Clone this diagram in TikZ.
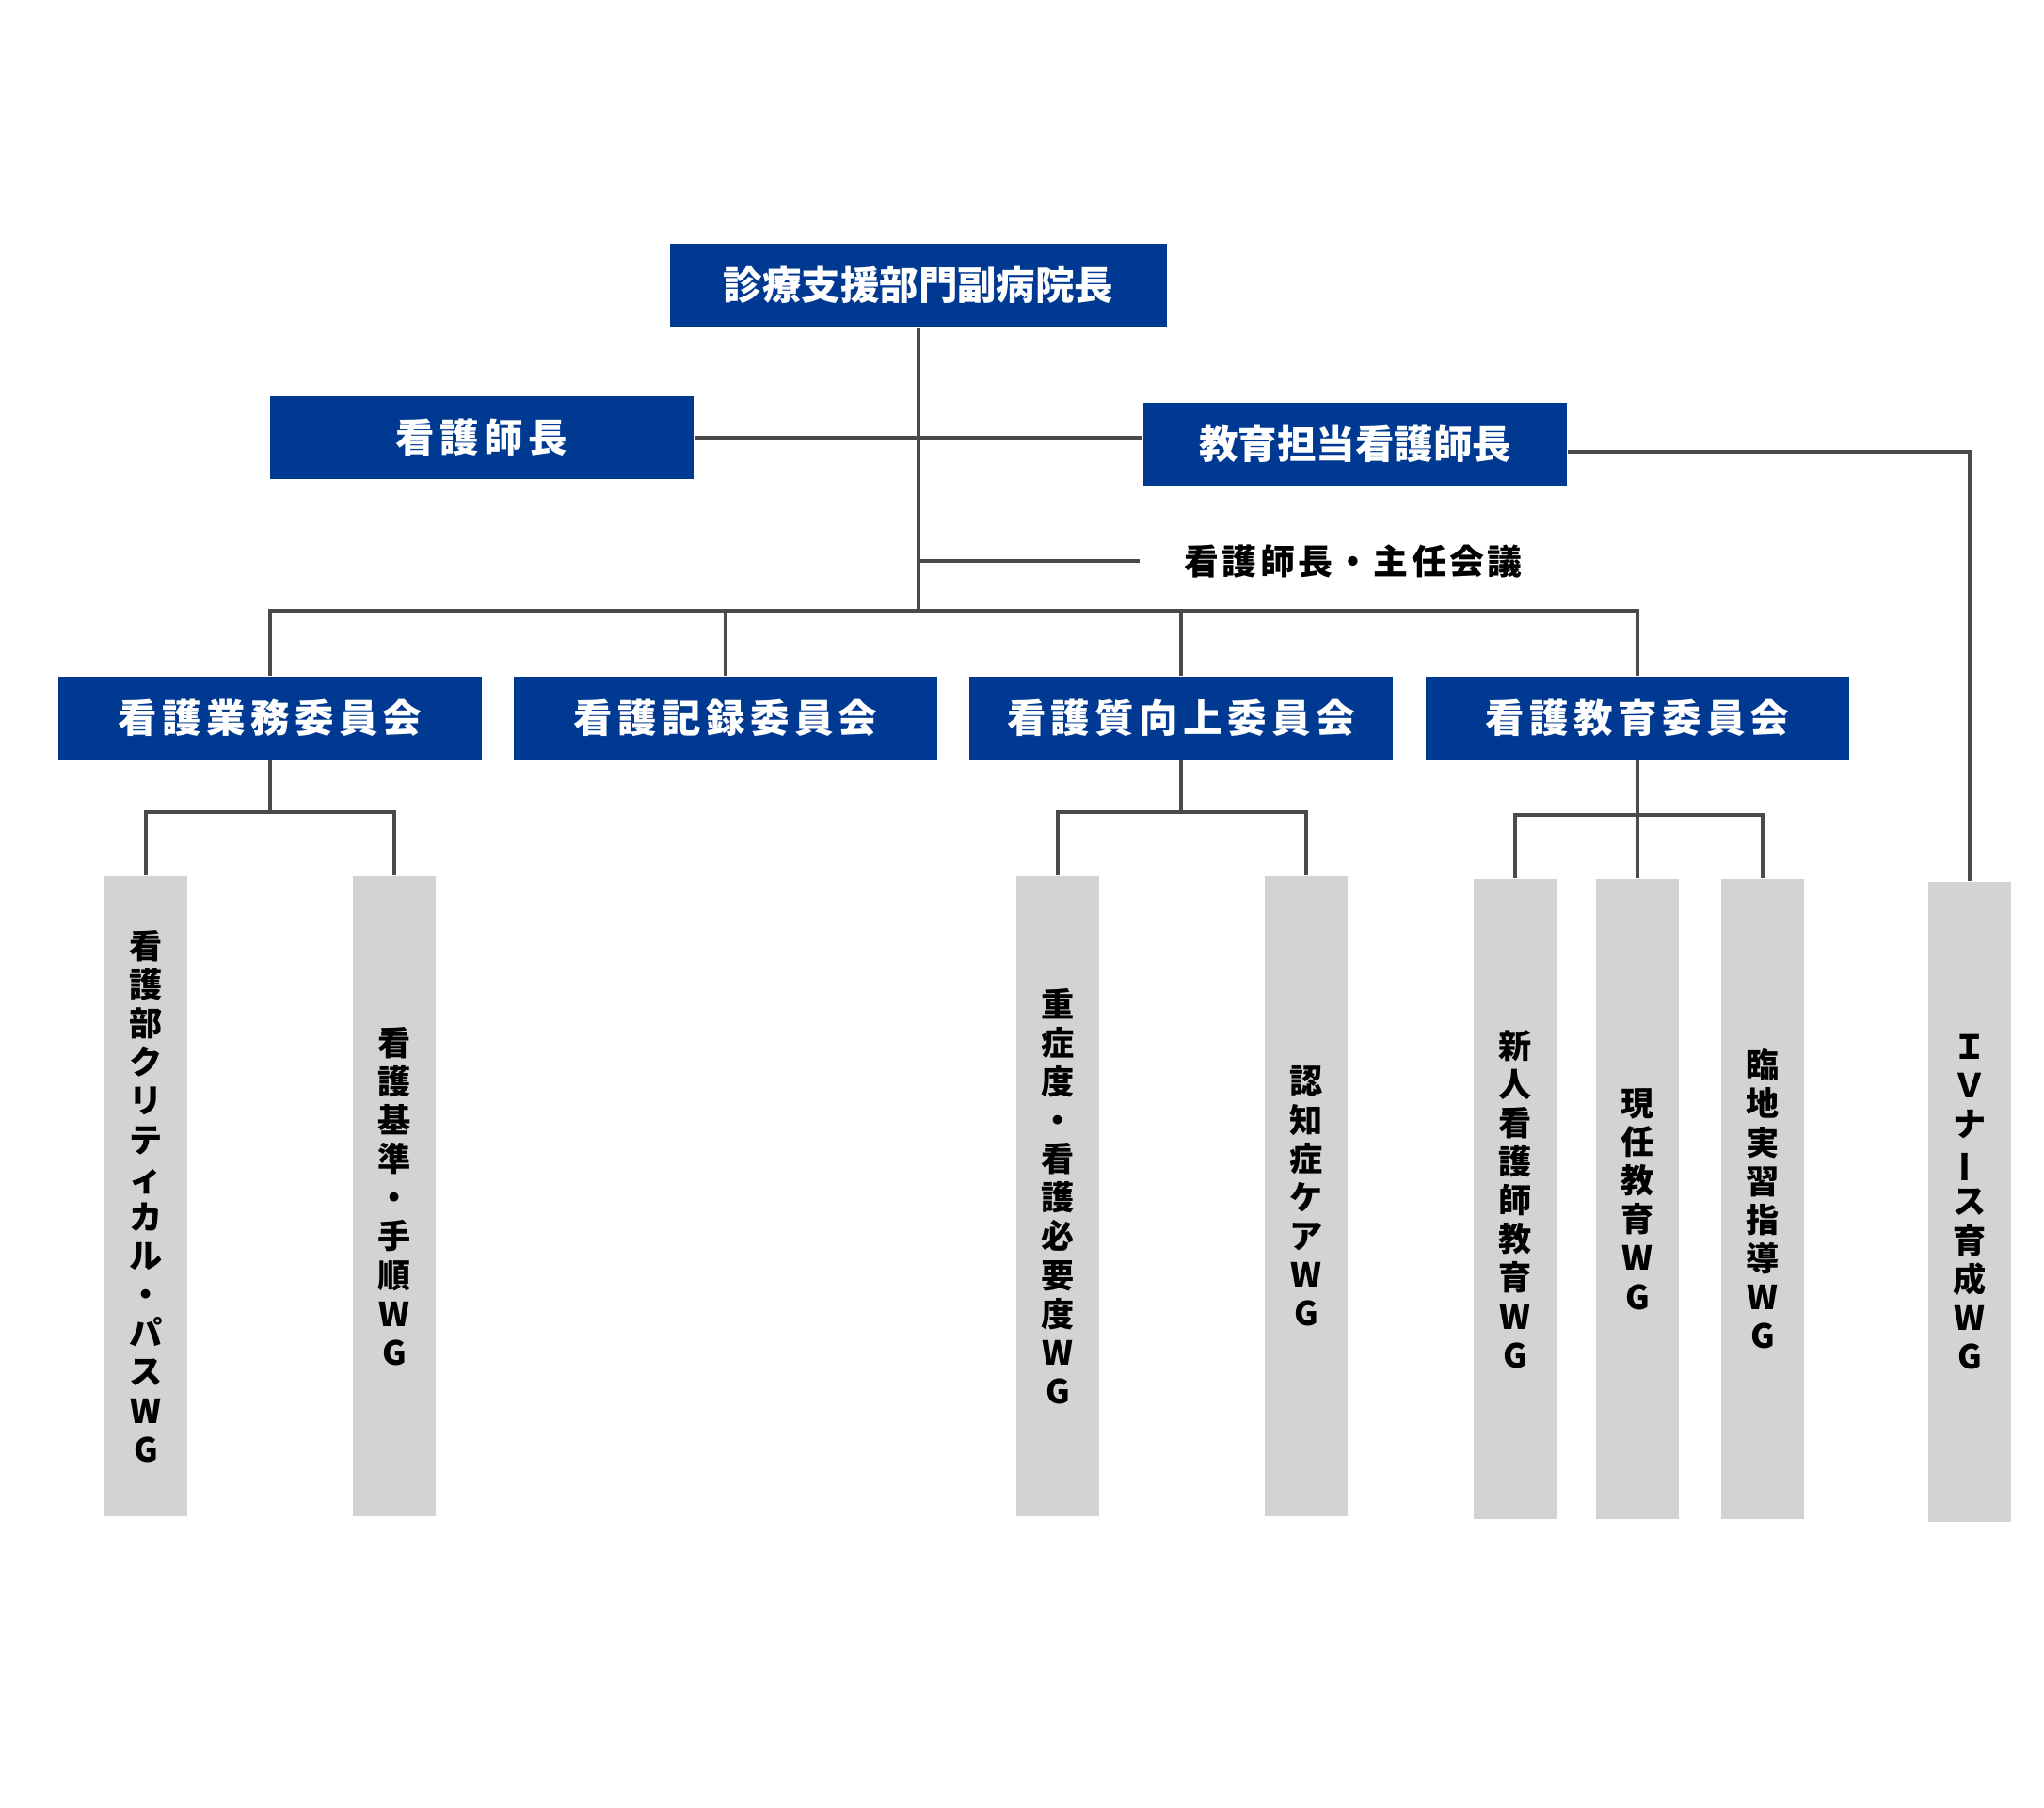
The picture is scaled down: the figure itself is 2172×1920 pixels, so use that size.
\documentclass[tikz,border=0pt]{standalone}
\usepackage{fontspec}
\setmainfont{Noto Sans CJK JP}
\newfontfamily\jpwide{Noto Sans CJK JP}[LetterSpace=13]
\newfontfamily\jpmid{Noto Sans CJK JP}[LetterSpace=9]
\definecolor{boxblue}{RGB}{0,57,145}
\definecolor{wggrey}{RGB}{211,211,211}
\definecolor{linegrey}{RGB}{74,74,74}

\tikzstyle{post} = [rectangle, fill=boxblue, text=white, inner sep=0pt, minimum width=4.5cm, minimum height=0.88cm, font=\bfseries\fontsize{11.8}{14}\selectfont]
\tikzstyle{committee} = [post, font=\jpwide\bfseries\fontsize{11.8}{14}\selectfont]
\tikzstyle{wg} = [rectangle, fill=wggrey, inner sep=0pt, minimum width=0.88cm, minimum height=6.8cm, align=center, font=\bfseries\fontsize{10}{11.7}\selectfont]
\tikzstyle{conn} = [draw=linegrey, line width=0.9pt]

\begin{document}
\begin{tikzpicture}[x=0.01cm, y=-0.01cm]
      \useasboundingbox (0,0) rectangle (2172,1920);
      \node[post, minimum width=5.28cm] (vp) at (976,303) {診療支援部門副病院長};
      \node[committee] (head) at (512,465) {看護師長};
      \node[post] (edu) at (1440,472) {教育担当看護師長};
      \node[font=\jpmid\bfseries\fontsize{10.5}{12}\selectfont, anchor=west, inner sep=0pt] (mtg) at (1258,596) {看護師長・主任会議};
      \node[committee] (c1) at (287,763) {看護業務委員会};
      \node[committee] (c2) at (771,763) {看護記録委員会};
      \node[committee] (c3) at (1255,763) {看護質向上委員会};
      \node[committee] (c4) at (1740,763) {看護教育委員会};
      \node[wg] (g1) at (155,1271) {看\\護\\部\\ク\\リ\\テ\\ィ\\カ\\ル\\・\\パ\\ス\\W\\G};
      \node[wg] (g2) at (419,1271) {看\\護\\基\\準\\・\\手\\順\\W\\G};
      \node[wg] (g3) at (1124,1271) {重\\症\\度\\・\\看\\護\\必\\要\\度\\W\\G};
      \node[wg] (g4) at (1388,1271) {認\\知\\症\\ケ\\ア\\W\\G};
      \node[wg] (g5) at (1610,1274) {新\\人\\看\\護\\師\\教\\育\\W\\G};
      \node[wg] (g6) at (1740,1274) {現\\任\\教\\育\\W\\G};
      \node[wg] (g7) at (1873,1274) {臨\\地\\実\\習\\指\\導\\W\\G};
      \node[wg] (g8) at (2093,1277) {Ｉ\\Ｖ\\ナ\\\rotatebox[origin=c]{90}{ー}\\ス\\育\\成\\W\\G};
      \coordinate (hub) at (976,649);
      \coordinate (mtgend) at (1211,596);
      \coordinate (s1) at (287,863);
      \coordinate (s3) at (1255,863);
      \coordinate (s4) at (1740,866);
      \draw[conn] (vp.south) -- (hub);
      \draw[conn] (head.east) -- (edu.west |- head.east);
      \draw[conn] (vp.south |- mtg) -- (mtgend);
      \draw[conn] (c1.north) -- (c1.north |- hub) -- (c4.north |- hub) -- (c4.north);
      \draw[conn] (c2.north) -- (c2.north |- hub);
      \draw[conn] (c3.north) -- (c3.north |- hub);
      \draw[conn] (c1.south) -- (s1);
      \draw[conn] (g1.north) -- (g1.north |- s1) -- (g2.north |- s1) -- (g2.north);
      \draw[conn] (c3.south) -- (s3);
      \draw[conn] (g3.north) -- (g3.north |- s3) -- (g4.north |- s3) -- (g4.north);
      \draw[conn] (c4.south) -- (g6.north);
      \draw[conn] (g5.north) -- (g5.north |- s4) -- (g7.north |- s4) -- (g7.north);
      \draw[conn] ([yshift=-0.08cm]edu.east) -| (g8.north);
    \end{tikzpicture}
\end{document}
